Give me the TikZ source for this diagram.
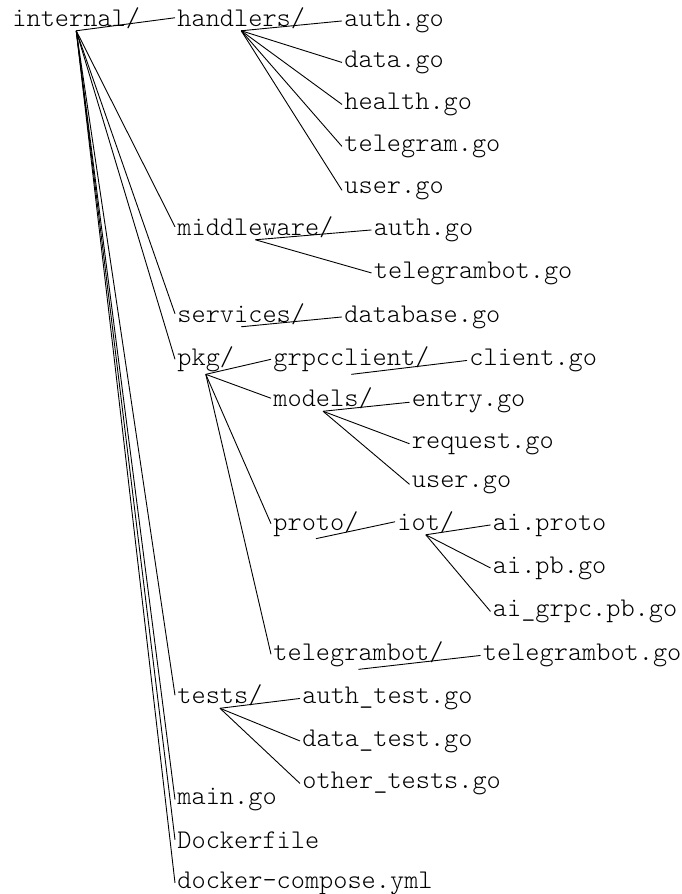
\documentclass[tikz,border=0pt]{standalone}
\usepackage{fontspec}
\newfontfamily\treefont{lmmonolt10-regular.otf}

\begin{document}
\begin{tikzpicture}[
  x=0.5pt,
  y=-0.5pt,
  line width=0.45pt,
  entry/.style={anchor=base west, inner xsep=1pt, inner ysep=1pt,
    font=\treefont\fontsize{13.5}{16}\selectfont},
  branch/.style={draw=black}
]
\useasboundingbox (0,0) rectangle (681,894);

% top level
\node[entry] (internal) at (10,26) {internal/};
\node[entry] (handlers) at (175,26) {handlers/};
\node[entry] (middleware) at (175,235) {middleware/};
\node[entry] (services) at (175,322) {services/};
\node[entry] (pkg) at (175,365.5) {pkg/};
\node[entry] (tests) at (175,703.5) {tests/};
\node[entry] (mainGo) at (175,804.5) {main.go};
\node[entry] (dockerfile) at (175,848) {Dockerfile};
\node[entry] (compose) at (175,888) {docker-compose.yml};

% handlers
\node[entry] (hAuth) at (342,26) {auth.go};
\node[entry] (hData) at (342,67.5) {data.go};
\node[entry] (hHealth) at (342,109.5) {health.go};
\node[entry] (hTelegram) at (342,151.5) {telegram.go};
\node[entry] (hUser) at (342,193) {user.go};

% middleware and services
\node[entry] (mwAuth) at (371.5,235) {auth.go};
\node[entry] (mwBot) at (371.5,278) {telegrambot.go};
\node[entry] (database) at (342,322) {database.go};

% pkg
\node[entry] (grpcclient) at (271,365.5) {grpcclient/};
\node[entry] (client) at (467,365.5) {client.go};
\node[entry] (models) at (271,406.5) {models/};
\node[entry] (mEntry) at (409.5,406.5) {entry.go};
\node[entry] (mRequest) at (409.5,448) {request.go};
\node[entry] (mUser) at (409.5,487) {user.go};
\node[entry] (proto) at (271,530) {proto/};
\node[entry] (iot) at (395,530) {iot/};
\node[entry] (aiProto) at (490.5,530) {ai.proto};
\node[entry] (aiPb) at (490.5,573) {ai.pb.go};
\node[entry] (aiGrpc) at (490.5,616.5) {ai\_grpc.pb.go};
\node[entry] (tgbot) at (271,660.5) {telegrambot/};
\node[entry] (tgbotGo) at (480.5,660.5) {telegrambot.go};

% tests
\node[entry] (tAuth) at (300,703.5) {auth\_test.go};
\node[entry] (tData) at (300,746) {data\_test.go};
\node[entry] (tOther) at (300,788.5) {other\_tests.go};

\foreach \kid in {handlers,middleware,services,pkg,tests,mainGo,dockerfile,compose}
  \draw[branch] (internal.south) -- (\kid.west);
\foreach \kid in {hAuth,hData,hHealth,hTelegram,hUser}
  \draw[branch] (handlers.south) -- (\kid.west);
\foreach \kid in {mwAuth,mwBot}
  \draw[branch] (middleware.south) -- (\kid.west);
\draw[branch] (services.south) -- (database.west);
\foreach \kid in {grpcclient,models,proto,tgbot}
  \draw[branch] (pkg.south) -- (\kid.west);
\draw[branch] (grpcclient.south) -- (client.west);
\foreach \kid in {mEntry,mRequest,mUser}
  \draw[branch] (models.south) -- (\kid.west);
\draw[branch] (proto.south) -- (iot.west);
\foreach \kid in {aiProto,aiPb,aiGrpc}
  \draw[branch] (iot.south) -- (\kid.west);
\draw[branch] (tgbot.south) -- (tgbotGo.west);
\foreach \kid in {tAuth,tData,tOther}
  \draw[branch] (tests.south) -- (\kid.west);
\end{tikzpicture}
\end{document}
